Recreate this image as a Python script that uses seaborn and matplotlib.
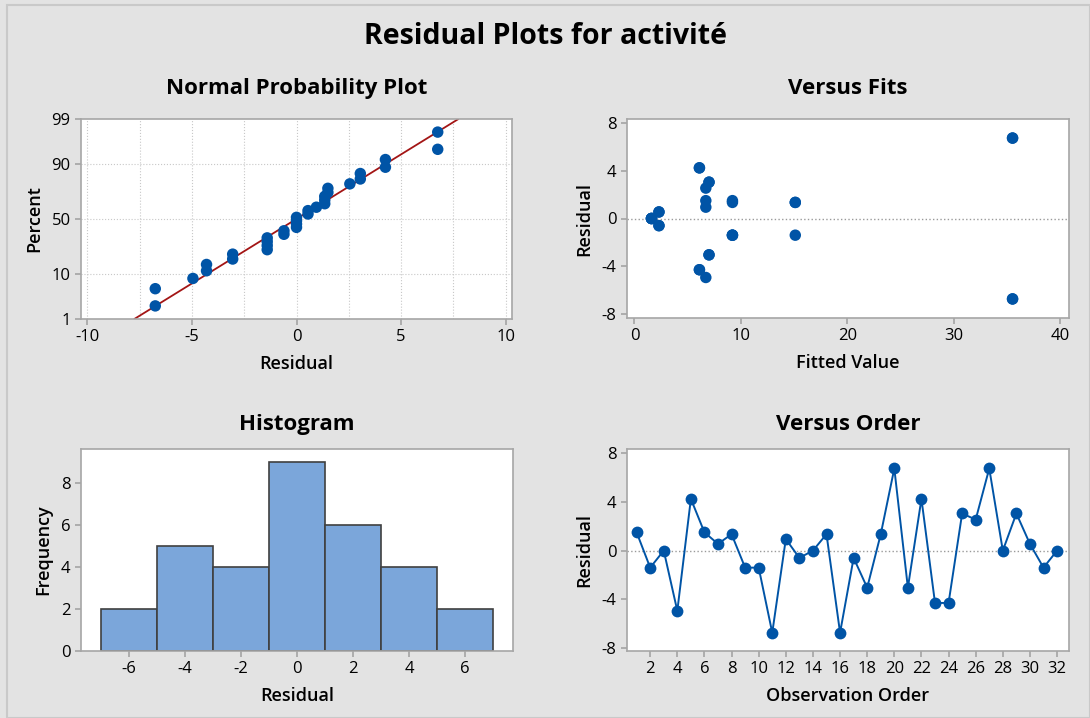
import numpy as np
import pandas as pd
import matplotlib
matplotlib.use("Agg")
import matplotlib.pyplot as plt
import seaborn as sns
from matplotlib.patches import Rectangle
from statistics import NormalDist

residuals = [1.5, -1.4, 0.0, -4.95, 4.25, 1.5, 0.55, 1.35,
             -1.4, -1.4, -6.75, 0.95, -0.6, 0.0, 1.35, -6.75,
             -0.6, -3.05, 1.35, 6.75, -3.05, 4.25, -4.3, -4.3,
             3.05, 2.55, 6.75, 0.0, 3.05, 0.55, -1.4, 0.0]
fitted = [9.2, 9.2, 1.6, 6.7, 6.1, 6.7, 2.3, 15.1,
          15.1, 9.2, 35.5, 6.7, 2.3, 1.6, 9.2, 35.5,
          2.3, 7.0, 15.1, 35.5, 7.0, 6.1, 6.1, 6.1,
          7.0, 6.7, 35.5, 1.6, 7.0, 2.3, 9.2, 1.6]
order = list(range(1, len(residuals) + 1))

pct_ticks = [1, 10, 50, 90, 99]
hist_edges = [-7, -5, -3, -1, 1, 3, 5, 7]

BLUE = "#0054A6"
BG = "#E3E3E3"
SPINE = "#A6A6A6"

sns.set_theme(style="white")
plt.rcParams["font.family"] = ["Open Sans", "DejaVu Sans"]
plt.rcParams.update({
    "text.color": "black",
    "axes.labelcolor": "black",
    "axes.titlecolor": "black",
    "axes.unicode_minus": False,
    "axes.edgecolor": SPINE,
    "axes.linewidth": 1.2,
    "xtick.color": SPINE,
    "ytick.color": SPINE,
    "xtick.labelcolor": "black",
    "ytick.labelcolor": "black",
    "xtick.labelsize": 12,
    "ytick.labelsize": 12,
    "xtick.major.size": 4,
    "ytick.major.size": 4,
    "xtick.bottom": True,
    "ytick.left": True,
})

df = pd.DataFrame({"Residual": residuals, "Fitted": fitted, "Order": order})

W, H = 1090, 718
fig = plt.figure(figsize=(W / 100, H / 100), dpi=100, facecolor=BG)
fig.patches.append(Rectangle((7 / W, 0), 1 - 7 / W, 1 - 5 / H, transform=fig.transFigure,
                             fill=False, edgecolor="#C9C9C9", linewidth=1.5))


def add_ax(x0, y0, x1, y1):
    return fig.add_axes([x0 / W, 1 - y1 / H, (x1 - x0) / W, (y1 - y0) / H])


lab_kw = dict(fontsize=13, fontweight="semibold")
top_title = dict(fontsize=16, fontweight="bold", pad=18)
bot_title = dict(fontsize=16, fontweight="bold", pad=14)

fig.text(0.5, 1 - 37 / H, "Residual Plots for activité", ha="center", va="center",
         fontsize=20.5, fontweight="bold")

# 1. Normal probability plot
ax1 = add_ax(81, 119, 512, 319)
nd = NormalDist()
srt = np.sort(df["Residual"].values)
n = len(srt)
ranks = (np.arange(1, n + 1) - 0.3) / (n + 0.4)
z = np.array([nd.inv_cdf(p) for p in ranks])
mu, sd = srt.mean(), srt.std(ddof=1)
zl = np.linspace(nd.inv_cdf(0.01), nd.inv_cdf(0.99), 2)
line_df = pd.DataFrame({"x": mu + sd * zl, "z": zl})
for xv in np.arange(-10, 10.1, 2.5):
    ax1.axvline(xv, color="#C8C8C8", lw=0.8, ls=":", zorder=0)
for p in [10, 50, 90]:
    ax1.axhline(nd.inv_cdf(p / 100), color="#C8C8C8", lw=0.8, ls=":", zorder=0)
sns.lineplot(data=line_df, x="x", y="z", ax=ax1, color="#A31515", lw=1.3, zorder=2)
sns.scatterplot(x=srt, y=z, ax=ax1, color=BLUE, s=68, edgecolor="none", zorder=3)
ax1.set_xlim(-10.3, 10.3)
ax1.set_ylim(nd.inv_cdf(0.01), nd.inv_cdf(0.99))
ax1.set_xticks([-10, -5, 0, 5, 10])
ax1.set_yticks([nd.inv_cdf(p / 100) for p in pct_ticks])
ax1.set_yticklabels([str(p) for p in pct_ticks])
ax1.set_title("Normal Probability Plot", **top_title)
ax1.set_xlabel("Residual", labelpad=7, **lab_kw)
ax1.set_ylabel("Percent", labelpad=6, **lab_kw)

# 2. Versus fits
ax2 = add_ax(627, 119, 1069, 318)
ax2.axhline(0, color="#9A9A9A", lw=1, ls=":", zorder=0)
sns.scatterplot(data=df, x="Fitted", y="Residual", ax=ax2, color=BLUE, s=68,
                edgecolor="none", zorder=3)
ax2.set_xlim(-0.7, 40.8)
ax2.set_ylim(-8.35, 8.35)
ax2.set_xticks([0, 10, 20, 30, 40])
ax2.set_yticks([-8, -4, 0, 4, 8])
ax2.set_title("Versus Fits", **top_title)
ax2.set_xlabel("Fitted Value", labelpad=7, **lab_kw)
ax2.set_ylabel("Residual", labelpad=6, **lab_kw)

# 3. Histogram
ax3 = add_ax(81, 449, 513, 651)
sns.histplot(data=df, x="Residual", bins=hist_edges, ax=ax3, color="#7BA6DA",
             alpha=1, edgecolor="#404040", linewidth=1.2)
ax3.set_xlim(-7.7, 7.7)
ax3.set_ylim(0, 9.6)
ax3.set_xticks([-6, -4, -2, 0, 2, 4, 6])
ax3.set_yticks([0, 2, 4, 6, 8])
ax3.set_title("Histogram", **bot_title)
ax3.set_xlabel("Residual", labelpad=7, **lab_kw)
ax3.set_ylabel("Frequency", labelpad=6, **lab_kw)

# 4. Versus order
ax4 = add_ax(627, 449, 1069, 651)
ax4.axhline(0, color="#9A9A9A", lw=1, ls=":", zorder=0)
sns.lineplot(data=df, x="Order", y="Residual", ax=ax4, color=BLUE, lw=1.4,
             marker="o", markersize=8.5, markeredgewidth=0, zorder=3)
ax4.set_xlim(0.29, 32.88)
ax4.set_ylim(-8.25, 8.35)
ax4.set_xticks(list(range(2, 33, 2)))
ax4.set_yticks([-8, -4, 0, 4, 8])
ax4.set_title("Versus Order", **bot_title)
ax4.set_xlabel("Observation Order", labelpad=7, **lab_kw)
ax4.set_ylabel("Residual", labelpad=6, **lab_kw)

for ax in (ax1, ax2, ax3, ax4):
    ax.set_facecolor("white")
    for s in ax.spines.values():
        s.set_color(SPINE)

fig.savefig("out.png", dpi=100, facecolor=BG)
